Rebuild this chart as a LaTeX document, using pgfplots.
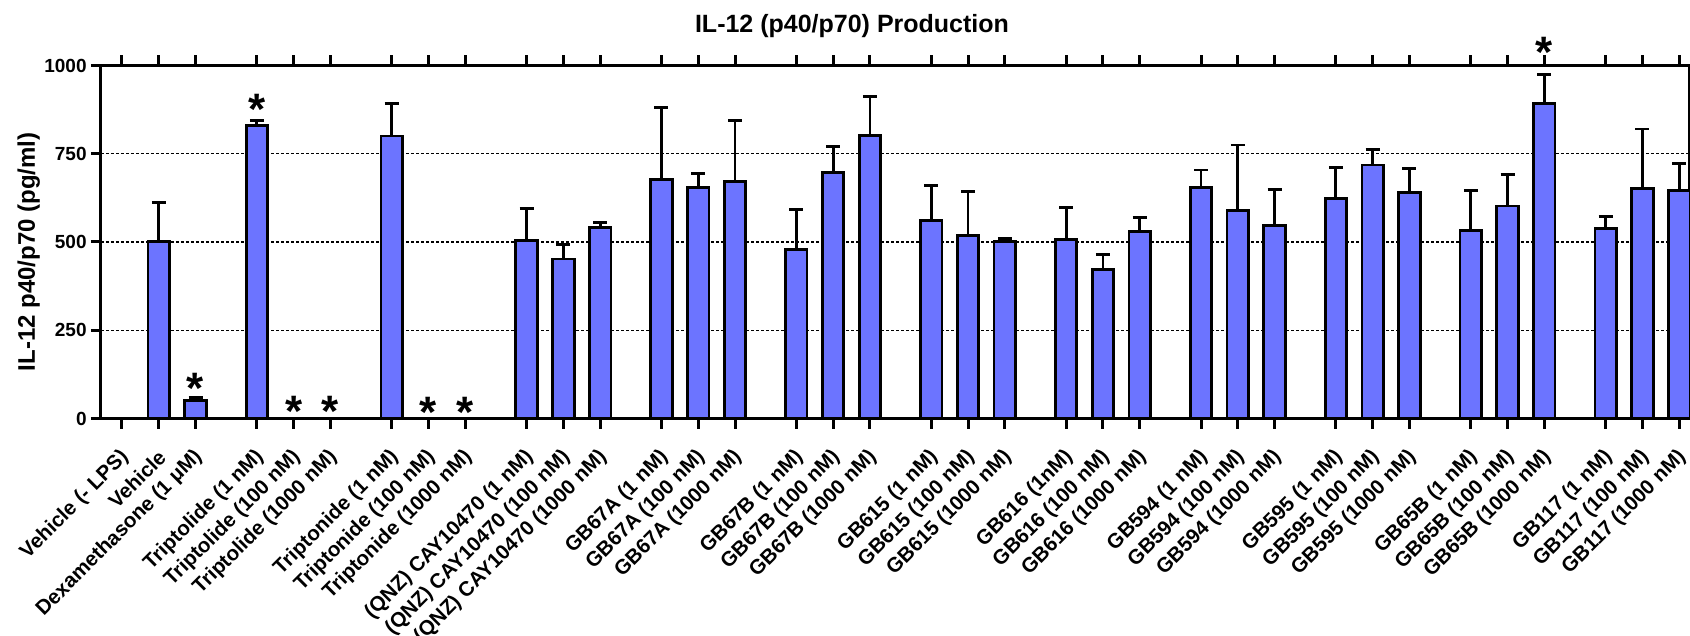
\documentclass[border=0pt]{standalone}
\usepackage{fontspec}
\setmainfont{Liberation Sans}
\usepackage{pgfplots}
\pgfplotsset{compat=1.18}
\usepackage{pgfplotstable}
\definecolor{barblue}{RGB}{108,116,255}

\pgfplotstableread{
x y e
0 0 0
3 502 109
6 52 7
11 831 14
14 0 0
17 0 0
22 800 93
25 0 0
28 0 0
33 505 89
36 452 41
39 541 15
44 678 204
47 654 40
50 671 173
55 479 113
58 697 74
61 801 112
66 562 97
69 519 123
72 502 7
77 507 90
80 422 42
83 529 40
88 654 50
91 590 185
94 547 102
99 623 88
102 718 43
105 640 69
110 533 114
113 602 90
116 893 81
121 539 34
124 651 169
127 645 77
}\datatable

\pgfplotstableread{
x y
6 114
11 905
14 47
17 47
25 45
28 45
116 1066
}\startable

\begin{document}
\begin{tikzpicture}
\begin{axis}[
  name=ax, at={(0,0)}, anchor=south west,
  scale only axis, width=794pt, height=176.5pt,
  xmin=-1.71, xmax=127.8, ymin=0, ymax=1000,
  clip=false,
  axis line style={line width=1.5pt},
  every tick/.style={black, line width=1.5pt},
  major tick length=5pt,
  tick align=outside,
  xtick pos=both, ytick pos=left,
  xtick={0,3,6,11,14,17,22,25,28,33,36,39,44,47,50,55,58,61,66,69,72,77,80,83,88,91,94,99,102,105,110,113,116,121,124,127},
  xticklabels={{Vehicle (- LPS)},{Vehicle},{Dexamethasone (1 μM)},
    {Triptolide (1 nM)},{Triptolide (100 nM)},{Triptolide (1000 nM)},
    {Triptonide (1 nM)},{Triptonide (100 nM)},{Triptonide (1000 nM)},
    {(QNZ) CAY10470 (1 nM)},{(QNZ) CAY10470 (100 nM)},{(QNZ) CAY10470 (1000 nM)},
    {GB67A (1 nM)},{GB67A (100 nM)},{GB67A (1000 nM)},
    {GB67B (1 nM)},{GB67B (100 nM)},{GB67B (1000 nM)},
    {GB615 (1 nM)},{GB615 (100 nM)},{GB615 (1000 nM)},
    {GB616 (1nM)},{GB616 (100 nM)},{GB616 (1000 nM)},
    {GB594 (1 nM)},{GB594 (100 nM)},{GB594 (1000 nM)},
    {GB595 (1 nM)},{GB595 (100 nM)},{GB595 (1000 nM)},
    {GB65B (1 nM)},{GB65B (100 nM)},{GB65B (1000 nM)},
    {GB117 (1 nM)},{GB117 (100 nM)},{GB117 (1000 nM)}},
  xticklabel style={font=\fontsize{10.3}{12}\selectfont\bfseries, xshift=2.5pt, yshift=-12pt, rotate=45, anchor=east, inner sep=1pt},
  ytick={0,250,500,750,1000},
  yticklabel style={font=\fontsize{9.5}{11}\selectfont\bfseries, inner sep=2pt},
  /pgf/number format/assume math mode=true,
  /pgf/number format/1000 sep={},
  ymajorgrids,
  major grid style={black, line width=0.7pt, dash pattern=on 1.5pt off 1pt},
  title={IL-12 (p40/p70) Production},
  title style={font=\fontsize{12.5}{14}\selectfont\bfseries, at={(axis description cs:0.5,1)}, anchor=base, yshift=10.5pt, xshift=-21.5pt},
  ylabel={IL-12 p40/p70 (pg/ml)},
  every axis y label/.style={at={(axis description cs:-0.0455,0.472)}, rotate=90, anchor=center, font=\fontsize{12}{14}\selectfont\bfseries},
]
\addplot[ybar, bar width=1.75, fill=barblue, draw=black, line width=1.4pt,
  error bars/.cd, y dir=plus, y explicit,
  error bar style={line width=1.4pt, black},
  error mark options={rotate=90, mark size=3.5pt, line width=1.4pt, black}]
  table[x=x, y=y, y error=e] {\datatable};
\addplot[draw=none, mark=none, nodes near coords={*},
  every node near coord/.style={font=\fontsize{22}{22}\selectfont\bfseries, anchor=base, yshift=-12.5pt, inner sep=0pt}]
  table[x=x, y=y] {\startable};
\end{axis}
\pgfresetboundingbox
\path (ax.south west) ++(-50.5pt,-108.75pt) rectangle ++(845pt,318pt);
\end{tikzpicture}
\end{document}
